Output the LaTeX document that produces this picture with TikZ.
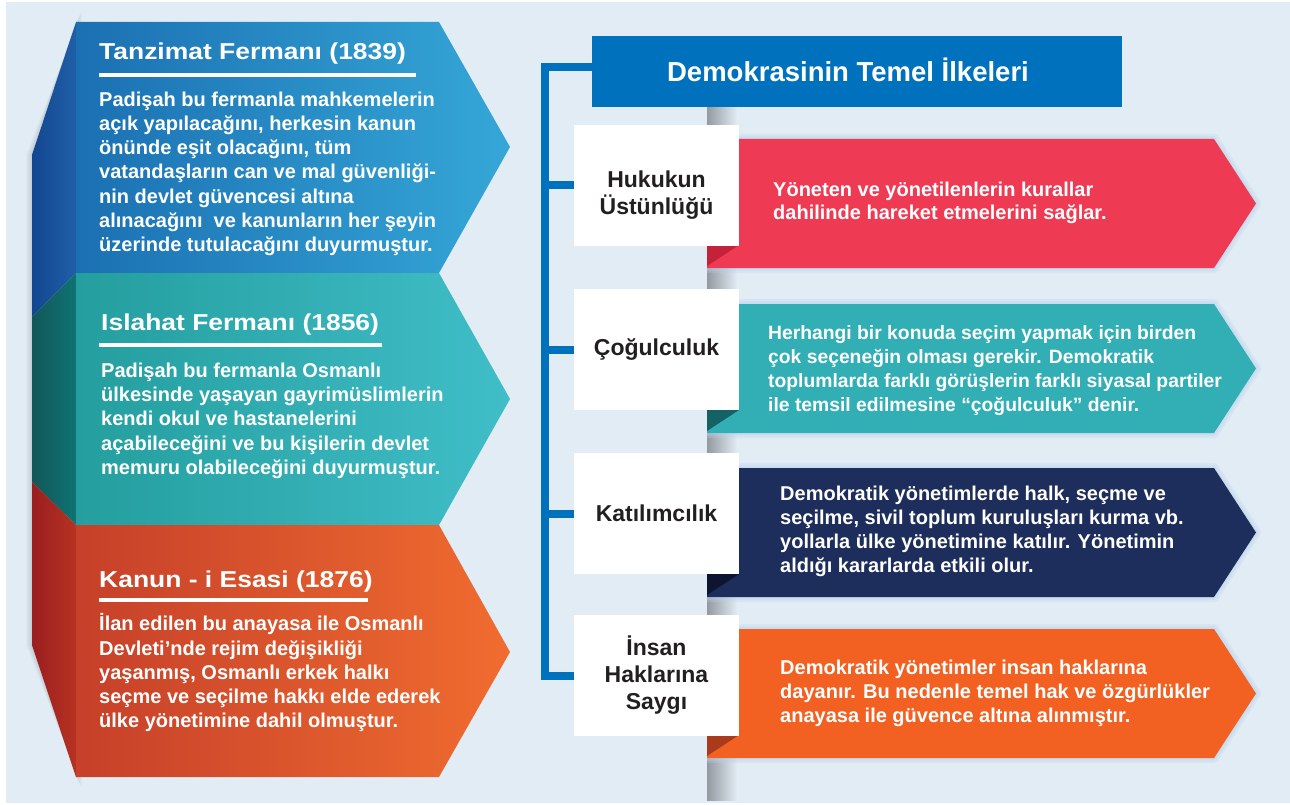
\documentclass[tikz,border=0pt]{standalone}
\usepackage{fontspec}
\setmainfont{Liberation Sans}
\newfontfamily\widefont[FakeStretch=1.15]{Liberation Sans}
\usetikzlibrary{calc}

\begin{document}
\begin{tikzpicture}[x=1pt,y=-1pt]
  % Colors
  \definecolor{paper}{HTML}{E2ECF5}
  \definecolor{tanzimatL}{HTML}{1B70B2}
  \definecolor{tanzimatR}{HTML}{35A7D7}
  \definecolor{tanzimatSideL}{HTML}{124690}
  \definecolor{tanzimatSideR}{HTML}{2060A8}
  \definecolor{islahatL}{HTML}{249E9E}
  \definecolor{islahatR}{HTML}{40BEC8}
  \definecolor{islahatSideL}{HTML}{135758}
  \definecolor{islahatSideR}{HTML}{0E7473}
  \definecolor{kanunL}{HTML}{C6402A}
  \definecolor{kanunR}{HTML}{F06C2F}
  \definecolor{kanunSideL}{HTML}{9A1E20}
  \definecolor{kanunSideR}{HTML}{B73222}
  \definecolor{ilkeblue}{HTML}{0071BC}
  \definecolor{hukukred}{HTML}{EE3A53}
  \definecolor{hukukfold}{HTML}{C42238}
  \definecolor{cogulteal}{HTML}{31AFB4}
  \definecolor{cogulfold}{HTML}{146166}
  \definecolor{katilnavy}{HTML}{1D2D5C}
  \definecolor{katilfold}{HTML}{0D1530}
  \definecolor{insanorange}{HTML}{F26122}
  \definecolor{insanfold}{HTML}{A93B1C}
  \definecolor{headtext}{HTML}{231F20}
  \definecolor{halo}{HTML}{B9D3EC}

  % Styles
  \tikzstyle{ferman title}=[font=\widefont\bfseries\fontsize{23}{27}\selectfont,text=white,inner sep=0pt,anchor=base west]
  \tikzstyle{ferman text}=[font=\bfseries\fontsize{20}{24.3}\selectfont,text=white,inner sep=0pt,align=left,anchor=base west]
  \tikzstyle{underline}=[white,line width=4pt]
  \tikzstyle{ilke box}=[fill=ilkeblue,minimum width=530pt,minimum height=71pt,inner sep=0pt]
  \tikzstyle{ilke title}=[font=\bfseries\fontsize{27.5}{33}\selectfont,text=white,inner sep=0pt,anchor=base]
  \tikzstyle{principle}=[fill=white,minimum width=165pt,minimum height=121pt,inner sep=0pt,align=center,font=\bfseries\fontsize{23}{27}\selectfont,text=headtext]
  \tikzstyle{principle text}=[font=\bfseries\fontsize{20}{24.3}\selectfont,text=white,inner sep=0pt,align=left,anchor=base west]
  \tikzstyle{bracket}=[ilkeblue,line width=8pt]
  \tikzstyle{glow}=[draw=halo,opacity=.25,line join=round]

  % The graphic
  \useasboundingbox (0,0) rectangle (1290,805);
  \fill[white] (0,0) rectangle (1290,805);
  \fill[paper] (6,2) rectangle (1290,803);

  % left ribbon: shadow, folded side, faces
  \foreach \s in {1,...,6}
    \fill[black,opacity=.02] ({76+\s},{22-2*\s}) -- ({32-\s},155) -- ({32-\s},645) -- ({76+\s},{777+2*\s}) -- cycle;

  \shade[left color=tanzimatSideL,right color=tanzimatSideR] (76,22) -- (32,155) -- (32,317) -- (76,273) -- cycle;
  \shade[left color=islahatSideL,right color=islahatSideR] (32,317) -- (76,273) -- (76,525) -- (32,482) -- cycle;
  \shade[left color=kanunSideL,right color=kanunSideR] (32,482) -- (76,525) -- (76,777) -- (32,645) -- cycle;

  \shade[left color=tanzimatL,right color=tanzimatR] (76,22) -- (439,22) -- (510,147) -- (439,273) -- (76,273) -- cycle;
  \shade[left color=islahatL,right color=islahatR] (76,273) -- (439,273) -- (510,399) -- (439,525) -- (76,525) -- cycle;
  \shade[left color=kanunL,right color=kanunR] (76,525) -- (439,525) -- (510,652) -- (439,777) -- (76,777) -- cycle;

  % Tanzimat
  \node[ferman title] (tanzimat) at (99,60) {Tanzimat Fermanı (1839)};
  \draw[underline] (99,74.7) -- (416,74.7);
  \node[ferman text] (tanzimattext) at (99,251.8) {Padişah bu fermanla mahkemelerin\\açık yapılacağını, herkesin kanun\\önünde eşit olacağını, tüm\\vatandaşların can ve mal güvenliği-\\nin devlet güvencesi altına\\alınacağını\ \ ve kanunların her şeyin\\üzerinde tutulacağını duyurmuştur.};

  % Islahat
  \node[ferman title] (islahat) at (101,330) {Islahat Fermanı (1856)};
  \draw[underline] (99,344.5) -- (382,344.5);
  \node[ferman text] (islahattext) at (101,474.5) {Padişah bu fermanla Osmanlı\\ülkesinde yaşayan gayrimüslimlerin\\kendi okul ve hastanelerini\\açabileceğini ve bu kişilerin devlet\\memuru olabileceğini duyurmuştur.};

  % Kanun-i Esasi
  \node[ferman title] (kanun) at (99,587.3) {Kanun - i Esasi (1876)};
  \draw[underline] (99,599.5) -- (368,599.5);
  \node[ferman text] (kanuntext) at (99,727.9) {İlan edilen bu anayasa ile Osmanlı\\Devleti’nde rejim değişikliği\\yaşanmış, Osmanlı erkek halkı\\seçme ve seçilme hakkı elde ederek\\ülke yönetimine dahil olmuştur.};

  % right panel edge
  \shade[left color=black!35!paper,right color=paper] (707,107) rectangle (737,800);

  % arrows
  \foreach \t/\c/\f in {139/hukukred/hukukfold,304/cogulteal/cogulfold,468/katilnavy/katilfold,629/insanorange/insanfold}{
    \foreach \w in {10,6,3}
      \draw[glow,line width=\w pt] (707,\t) -- (1214,\t) -- (1256,{\t+64.5}) -- (1214,{\t+129}) -- (707,{\t+129});
    \fill[\c] (707,\t) -- (1214,\t) -- (1256,{\t+64.5}) -- (1214,{\t+129}) -- (707,{\t+129}) -- cycle;
    \fill[\f] (707,{\t+106}) -- (739,{\t+106}) -- (707,{\t+127}) -- cycle;
  }

  % boxes
  \node[ilke box] (ilke) at (857,71.5) {};
  \node[ilke title] (ilketext) at (848,81.7) {Demokrasinin Temel İlkeleri};
  \node[principle,text height=62pt] (hukuk) at (656.5,185.5) {Hukukun\\Üstünlüğü};
  \node[principle] (cogul) at (656.5,349.5) {Çoğulculuk};
  \node[principle] (katil) at (656.5,513.5) {Katılımcılık};
  \node[principle] (insan) at (656.5,675.5) {İnsan\\Haklarına\\Saygı};

  % bracket
  \draw[bracket] ([yshift=4pt]ilke.west) -| ([xshift=-29pt]insan.west) -- (insan.west);
  \foreach \b in {hukuk,cogul,katil}
    \draw[bracket] (\b.west) -- ++(-33pt,0);

  % texts in arrows
  \node[principle text,font=\bfseries\fontsize{20}{23}\selectfont] (hukuktext) at (773,219.7) {Yöneten ve yönetilenlerin kurallar\\dahilinde hareket etmelerini sağlar.};
  \node[principle text,font=\bfseries\fontsize{19.3}{24}\selectfont] (cogultext) at (768,411.3) {Herhangi bir konuda seçim yapmak için birden\\çok seçeneğin olması gerekir. Demokratik\\toplumlarda farklı görüşlerin farklı siyasal partiler\\ile temsil edilmesine “çoğulculuk” denir.};
  \node[principle text,font=\bfseries\fontsize{20}{24}\selectfont] (katiltext) at (780,572) {Demokratik yönetimlerde halk, seçme ve\\seçilme, sivil toplum kuruluşları kurma vb.\\yollarla ülke yönetimine katılır. Yönetimin\\aldığı kararlarda etkili olur.};
  \node[principle text] (insantext) at (780,722.6) {Demokratik yönetimler insan haklarına\\dayanır. Bu nedenle temel hak ve özgürlükler\\anayasa ile güvence altına alınmıştır.};

\end{tikzpicture}
\end{document}
